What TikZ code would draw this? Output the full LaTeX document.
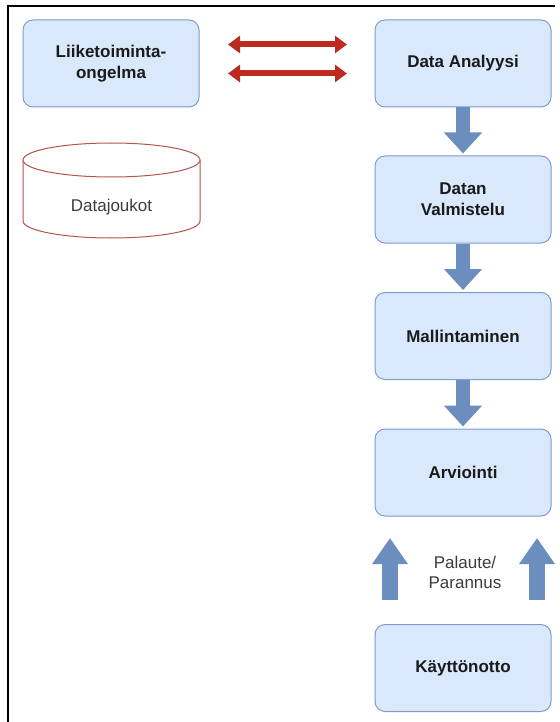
\documentclass[tikz,border=0pt]{standalone}
\usepackage{fontspec}
\setmainfont{Liberation Sans}
\usetikzlibrary{arrows.meta}
\definecolor{boxfill}{HTML}{DAE8FC}
\definecolor{boxline}{HTML}{7C9CCB}
\definecolor{blockarrow}{HTML}{6C8EBF}
\definecolor{redarrow}{HTML}{BC2A20}
\definecolor{cylline}{HTML}{B85450}
\definecolor{txt}{HTML}{1A1A1A}
\definecolor{graytxt}{HTML}{3C3C3C}
\tikzset{
  stepbox/.style={draw=boxline, fill=boxfill, rounded corners=10pt, line width=1pt,
    minimum width=176pt, minimum height=87pt, align=center, text=txt,
    font=\fontsize{17}{21}\selectfont\bfseries, inner sep=0pt},
  downarrow/.style={line width=14pt,
    -{Triangle[length=21pt,width=37pt]}, color=blockarrow},
  uparrow/.style={line width=16pt,
    -{Triangle[length=26pt,width=34pt]}, color=blockarrow},
  redlink/.style={color=redarrow, line width=6pt,
    {Triangle[length=12pt,width=17pt]}-{Triangle[length=12pt,width=17pt]}},
  plain/.style={font=\fontsize{17}{20}\selectfont, text=graytxt, align=center, inner sep=0pt}
}
\begin{document}
\begin{tikzpicture}[x=1pt,y=-1pt]
\useasboundingbox (0,0) rectangle (559,722);
% frame
\draw[line width=1.6pt, black] (555,6) -- (8,6) -- (8,722);

\node[stepbox] (lo) at (111,63.5) {Liiketoiminta-\\ongelma};
\node[stepbox] (da) at (463,63.5) {Data Analyysi};
\node[stepbox] (dv) at (463,199.5) {Datan\\Valmistelu};
\node[stepbox] (ma) at (463,336) {Mallintaminen};
\node[stepbox] (ar) at (463,472.5) {Arviointi};
\node[stepbox] (ka) at (463,668) {Käyttönotto};

% cylinder
\draw[cylline, fill=white, line width=1pt]
  (23,160) -- (23,221) arc[start angle=180, end angle=360, x radius=88.5pt, y radius=17pt]
  -- (200,160);
\draw[cylline, fill=white, line width=1pt] (111.5,160) ellipse[x radius=88.5pt, y radius=17pt];
\node[plain] (dj) at (111.5,207) {Datajoukot};

% red double arrows
\coordinate (r1a) at (228,44.5);
\coordinate (r1b) at (347,44.5);
\coordinate (r2a) at (228,73.5);
\coordinate (r2b) at (347,73.5);
\draw[redlink] (r1a) -- (r1b);
\draw[redlink] (r2a) -- (r2b);

% down block arrows
\draw[downarrow, shorten >=2pt] (da.south) -- (dv.north);
\draw[downarrow, shorten >=2pt] (dv.south) -- (ma.north);
\draw[downarrow, shorten >=2pt] (ma.south) -- (ar.north);

% up block arrows
\coordinate (u1s) at (390,600);
\coordinate (u1e) at (390,538);
\coordinate (u2s) at (537,600);
\coordinate (u2e) at (537,538);
\draw[uparrow] (u1s) -- (u1e);
\draw[uparrow] (u2s) -- (u2e);
\node[plain] (pal) at (465,572) {Palaute/\\Parannus};
\end{tikzpicture}
\end{document}
